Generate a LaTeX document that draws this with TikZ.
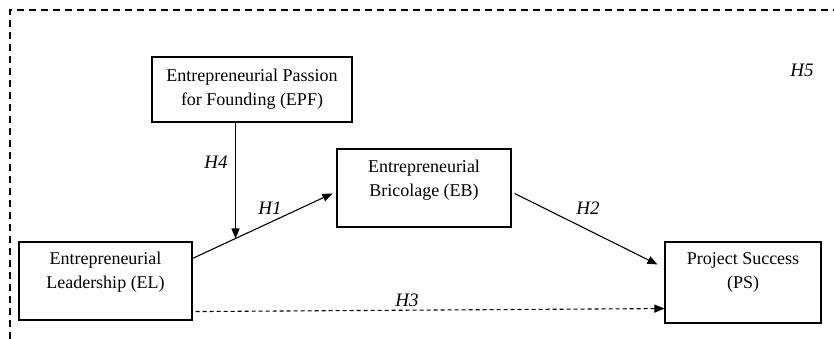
\documentclass[tikz,border=0pt]{standalone}
\usepackage{fontspec}
\setmainfont{Liberation Serif}
\usetikzlibrary{arrows.meta,calc}
\newcommand{\boxtext}[4]{\parbox[c][#2][c]{#1}{\centering\fontsize{18}{24}\selectfont #3\par\vspace*{#4}}}
\begin{document}
\begin{tikzpicture}[x=1pt,y=-1pt,
  cbox/.style={draw,line width=1.1pt,inner sep=0pt},
  hlab/.style={font=\fontsize{19}{22}\selectfont\itshape,inner sep=0pt},
  arr/.style={line width=1.1pt,-{Triangle[length=10pt,width=8pt]}},
  frame/.style={line width=1.3pt,dash pattern=on 7pt off 5pt,black}]
\useasboundingbox (0,0) rectangle (834,339);
\draw[frame] (10,339) -- (10,10) -- (834,10);
\node[cbox] (EPF) at (252,89.5) {\boxtext{200pt}{65pt}{Entrepreneurial Passion\\for Founding (EPF)}{0pt}};
\node[cbox] (EB) at (424,188) {\boxtext{174pt}{78pt}{Entrepreneurial\\Bricolage (EB)}{15pt}};
\node[cbox] (EL) at (105.5,281) {\boxtext{173pt}{78pt}{Entrepreneurial\\Leadership (EL)}{17pt}};
\node[cbox] (PS) at (743,282.5) {\boxtext{156pt}{81pt}{Project Success\\(PS)}{20pt}};
\coordinate (h1s) at ([yshift=-17pt]EL.north east);
\coordinate (h1e) at ([xshift=-4pt,yshift=-45pt]EB.north west);
\draw[arr] (h1s) -- (h1e);
\path (h1s) -- (h1e) coordinate[pos=0.307] (m);
\draw[arr] (m |- EPF.south) -- (m);
\draw[arr] ([xshift=3pt,yshift=-45pt]EB.north east) -- ([xshift=-7pt,yshift=-23pt]PS.north west);
\draw[line width=1.1pt,dash pattern=on 4pt off 3pt,-{Triangle[length=10pt,width=8pt]}] ([xshift=3pt,yshift=9pt]EL.south east) -- ([xshift=0pt,yshift=15pt]PS.south west);
\node[hlab] (l1) at (270,208) {H1};
\node[hlab] (l2) at (588,208) {H2};
\node[hlab] (l3) at (407,300) {H3};
\node[hlab] (l4) at (216,162) {H4};
\node[hlab] (l5) at (802,70) {H5};
\end{tikzpicture}
\end{document}
